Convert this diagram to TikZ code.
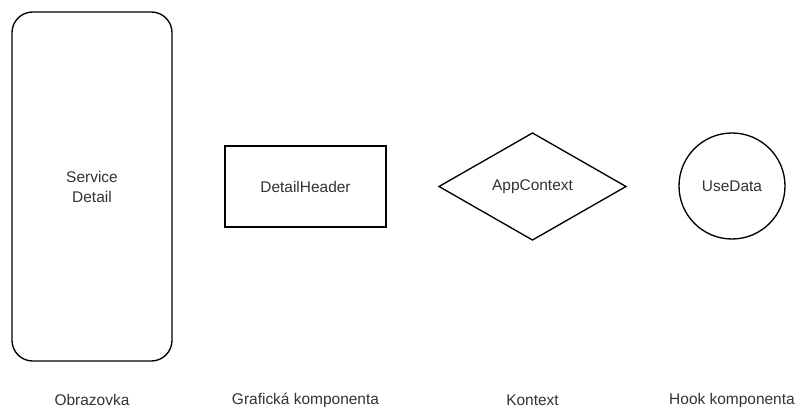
\documentclass[tikz,border=0pt]{standalone}
\usepackage{fontspec}
\setmainfont{Liberation Sans}
\usetikzlibrary{shapes.geometric}
\definecolor{txt}{HTML}{333333}
\tikzset{
  px/.style={x=0.75pt,y=-0.75pt},
  shapebox/.style={draw=black, line width=1pt, inner sep=0pt, outer sep=0pt, text=txt,
    font=\fontsize{11.6pt}{15pt}\selectfont, align=center},
  caption/.style={inner sep=0pt, text=txt, font=\fontsize{11.6pt}{15pt}\selectfont}
}
\begin{document}
\begin{tikzpicture}[px]
\useasboundingbox (0,0) rectangle (800,407);
\node[shapebox, rectangle, rounded corners=15.5pt, minimum width=120pt, minimum height=261.75pt] (screen) at (92,186.5) {Service\\Detail};
\node[shapebox, rectangle, minimum width=120.75pt, minimum height=60.75pt] (header) at (305.5,186.5) {DetailHeader};
\node[shapebox, diamond, minimum width=140.25pt, minimum height=80.25pt] (ctx) at (532.5,186.5) {AppContext};
\node[shapebox, circle, minimum size=79.5pt] (hook) at (732,186) {UseData};
\node[caption] (l1) at (92,400) {Obrazovka};
\node[caption] (l2) at (305.5,400) {Grafická komponenta};
\node[caption] (l3) at (532.5,400) {Kontext};
\node[caption] (l4) at (732,400) {Hook komponenta};
\end{tikzpicture}
\end{document}
